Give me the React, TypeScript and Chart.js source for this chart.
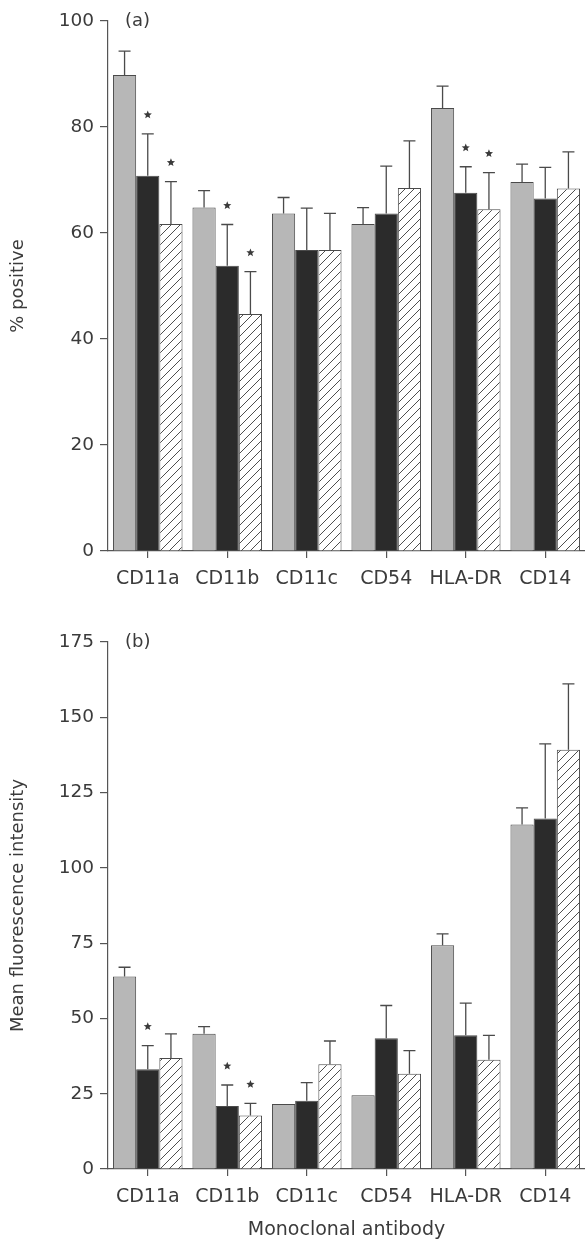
import React, { useEffect, useRef } from 'react';
import { Chart, registerables } from 'chart.js';

Chart.register(...registerables);

// ---------- data ----------
const categories = ['CD11a', 'CD11b', 'CD11c', 'CD54', 'HLA-DR', 'CD14'];

// panel (a): % positive
const posGray = [89.8, 64.8, 63.7, 61.7, 83.6, 69.6];
const posDark = [70.8, 53.8, 56.8, 63.7, 67.6, 66.5];
const posHatch = [61.7, 44.7, 56.8, 68.5, 64.5, 68.4];
const posGrayErr = [4.5, 3.2, 3.0, 3.1, 4.1, 3.4];
const posDarkErr = [7.9, 7.8, 7.9, 8.9, 4.9, 5.9];
const posHatchErr = [8.0, 8.0, 6.9, 8.9, 6.9, 6.9];
const posDarkStar = [true, true, false, false, true, false];
const posHatchStar = [true, true, false, false, true, false];
const posYTicks = [0, 20, 40, 60, 80, 100];

// panel (b): mean fluorescence intensity
const mfiGray = [63.9, 44.9, 21.6, 24.5, 74.3, 114.4];
const mfiDark = [33.1, 20.9, 22.7, 43.4, 44.4, 116.4];
const mfiHatch = [36.9, 17.8, 34.8, 31.6, 36.3, 139.2];
const mfiGrayErr = [3.1, 2.4, 0, 0, 3.8, 5.5];
const mfiDarkErr = [7.9, 7.0, 6.0, 10.9, 10.7, 24.8];
const mfiHatchErr = [8.0, 4.0, 7.7, 7.7, 8.1, 21.9];
const mfiDarkStar = [true, true, false, false, false, false];
const mfiHatchStar = [false, true, false, false, false, false];
const mfiYTicks = [0, 25, 50, 75, 100, 125, 150, 175];

// ---------- styling ----------
const FONT = "'DejaVu Sans', sans-serif";
const TEXT = '#3b3b3b';
const LINE = '#555555';
const GRAY = '#b7b7b7';
const DARK = '#2b2b2b';
const EDGE = '#4a4a4a';

function makeHatch(): CanvasPattern | string {
  const s = 9;
  const c = document.createElement('canvas');
  c.width = s;
  c.height = s;
  const g = c.getContext('2d');
  if (!g) return '#ffffff';
  g.fillStyle = '#ffffff';
  g.fillRect(0, 0, s, s);
  g.strokeStyle = '#3a3a3a';
  g.lineWidth = 0.9;
  g.beginPath();
  g.moveTo(0, s);
  g.lineTo(s, 0);
  g.moveTo(-1, 1);
  g.lineTo(1, -1);
  g.moveTo(s - 1, s + 1);
  g.lineTo(s + 1, s - 1);
  g.stroke();
  const p = g.createPattern(c, 'repeat');
  return p || '#ffffff';
}

function drawStar(ctx: CanvasRenderingContext2D, cx: number, cy: number) {
  const outer = 4.3;
  const inner = 1.9;
  ctx.beginPath();
  for (let k = 0; k < 10; k++) {
    const r = k % 2 === 0 ? outer : inner;
    const a = -Math.PI / 2 + (k * Math.PI) / 5;
    const px = cx + r * Math.cos(a);
    const py = cy + r * Math.sin(a);
    if (k === 0) ctx.moveTo(px, py);
    else ctx.lineTo(px, py);
  }
  ctx.closePath();
  ctx.fillStyle = '#3a3a3a';
  ctx.fill();
}

function makeOverlay(errors: number[][], stars: boolean[][], panel: string) {
  return {
    id: 'overlay_' + panel,
    afterDatasetsDraw(chart: any) {
      const ctx: CanvasRenderingContext2D = chart.ctx;
      const y = chart.scales.y;
      ctx.save();
      chart.data.datasets.forEach((ds: any, i: number) => {
        const meta = chart.getDatasetMeta(i);
        meta.data.forEach((bar: any, j: number) => {
          const v = ds.data[j] as number;
          const e = errors[i][j];
          const yTop = y.getPixelForValue(v + e);
          if (e > 0) {
            ctx.strokeStyle = '#4a4a4a';
            ctx.lineWidth = 1.3;
            ctx.beginPath();
            ctx.moveTo(bar.x, bar.y);
            ctx.lineTo(bar.x, yTop);
            ctx.moveTo(bar.x - 6, yTop);
            ctx.lineTo(bar.x + 6, yTop);
            ctx.stroke();
          }
          if (stars[i][j]) drawStar(ctx, bar.x, yTop - 19);
        });
      });
      ctx.fillStyle = TEXT;
      ctx.font = `18px ${FONT}`;
      ctx.textAlign = 'left';
      ctx.textBaseline = 'middle';
      ctx.fillText(panel, 125, chart.chartArea.top);
      ctx.restore();
    },
  };
}

function makeConfig(o: {
  gray: number[];
  dark: number[];
  hatchVals: number[];
  hatch: CanvasPattern | string;
  errors: number[][];
  stars: boolean[][];
  yTicks: number[];
  yTitle: string;
  xTitle: string | null;
  padTop: number;
  xHeight: number;
  panel: string;
}): any {
  const common = {
    borderColor: EDGE,
    borderWidth: 1,
    categoryPercentage: 0.875,
    barPercentage: 1.0,
  };
  return {
    type: 'bar',
    data: {
      labels: categories,
      datasets: [
        { data: o.gray, backgroundColor: GRAY, ...common },
        { data: o.dark, backgroundColor: DARK, ...common },
        { data: o.hatchVals, backgroundColor: o.hatch, ...common },
      ],
    },
    options: {
      animation: false,
      responsive: false,
      devicePixelRatio: 1,
      layout: { padding: { top: o.padTop, left: 0, right: 0, bottom: 0 } },
      plugins: { legend: { display: false }, tooltip: { enabled: false } },
      scales: {
        x: {
          type: 'category',
          grid: {
            display: true,
            drawOnChartArea: false,
            drawTicks: true,
            tickLength: 7,
            color: LINE,
            lineWidth: 1.2,
            offset: false,
          },
          border: { display: true, color: LINE, width: 1.2 },
          ticks: {
            font: { family: FONT, size: 19 },
            color: TEXT,
            padding: 10,
            maxRotation: 0,
            autoSkip: false,
          },
          title: o.xTitle
            ? {
                display: true,
                text: o.xTitle,
                font: { family: FONT, size: 19 },
                color: TEXT,
                padding: { top: 0, bottom: 2 },
              }
            : { display: false },
          afterFit: (s: any) => {
            s.height = o.xHeight;
          },
        },
        y: {
          min: o.yTicks[0],
          max: o.yTicks[o.yTicks.length - 1],
          afterBuildTicks: (s: any) => {
            s.ticks = o.yTicks.map((v) => ({ value: v }));
          },
          grid: {
            display: true,
            drawOnChartArea: false,
            drawTicks: true,
            tickLength: 8,
            color: LINE,
            lineWidth: 1.2,
          },
          border: { display: true, color: LINE, width: 1.2 },
          ticks: {
            font: { family: FONT, size: 18.5 },
            color: TEXT,
            padding: 6,
          },
          title: {
            display: true,
            text: o.yTitle,
            font: { family: FONT, size: 18 },
            color: TEXT,
            padding: { top: 8, bottom: 0 },
          },
          afterFit: (s: any) => {
            s.width = 108;
          },
        },
      },
    },
    plugins: [makeOverlay(o.errors, o.stars, o.panel)],
  };
}

export default function App() {
  const topRef = useRef<HTMLCanvasElement>(null);
  const botRef = useRef<HTMLCanvasElement>(null);

  useEffect(() => {
    if (!topRef.current || !botRef.current) return;
    const hatch = makeHatch();
    const none = categories.map(() => false);
    const c1 = new Chart(
      topRef.current,
      makeConfig({
        gray: posGray,
        dark: posDark,
        hatchVals: posHatch,
        hatch,
        errors: [posGrayErr, posDarkErr, posHatchErr],
        stars: [none, posDarkStar, posHatchStar],
        yTicks: posYTicks,
        yTitle: '% positive',
        xTitle: null,
        padTop: 21,
        xHeight: 49,
        panel: '(a)',
      })
    );
    const c2 = new Chart(
      botRef.current,
      makeConfig({
        gray: mfiGray,
        dark: mfiDark,
        hatchVals: mfiHatch,
        hatch,
        errors: [mfiGrayErr, mfiDarkErr, mfiHatchErr],
        stars: [none, mfiDarkStar, mfiHatchStar],
        yTicks: mfiYTicks,
        yTitle: 'Mean fluorescence intensity',
        xTitle: 'Monoclonal antibody',
        padTop: 42,
        xHeight: 74,
        panel: '(b)',
      })
    );
    return () => {
      c1.destroy();
      c2.destroy();
    };
  }, []);

  return (
    <div
      style={{
        position: 'absolute',
        left: 0,
        top: 0,
        width: 585,
        height: 1243,
        background: '#ffffff',
        overflow: 'hidden',
      }}
    >
      <canvas
        ref={topRef}
        width={585}
        height={600}
        style={{ position: 'absolute', left: 0, top: 0, width: 585, height: 600, display: 'block' }}
      />
      <canvas
        ref={botRef}
        width={585}
        height={643}
        style={{ position: 'absolute', left: 0, top: 600, width: 585, height: 643, display: 'block' }}
      />
    </div>
  );
}
